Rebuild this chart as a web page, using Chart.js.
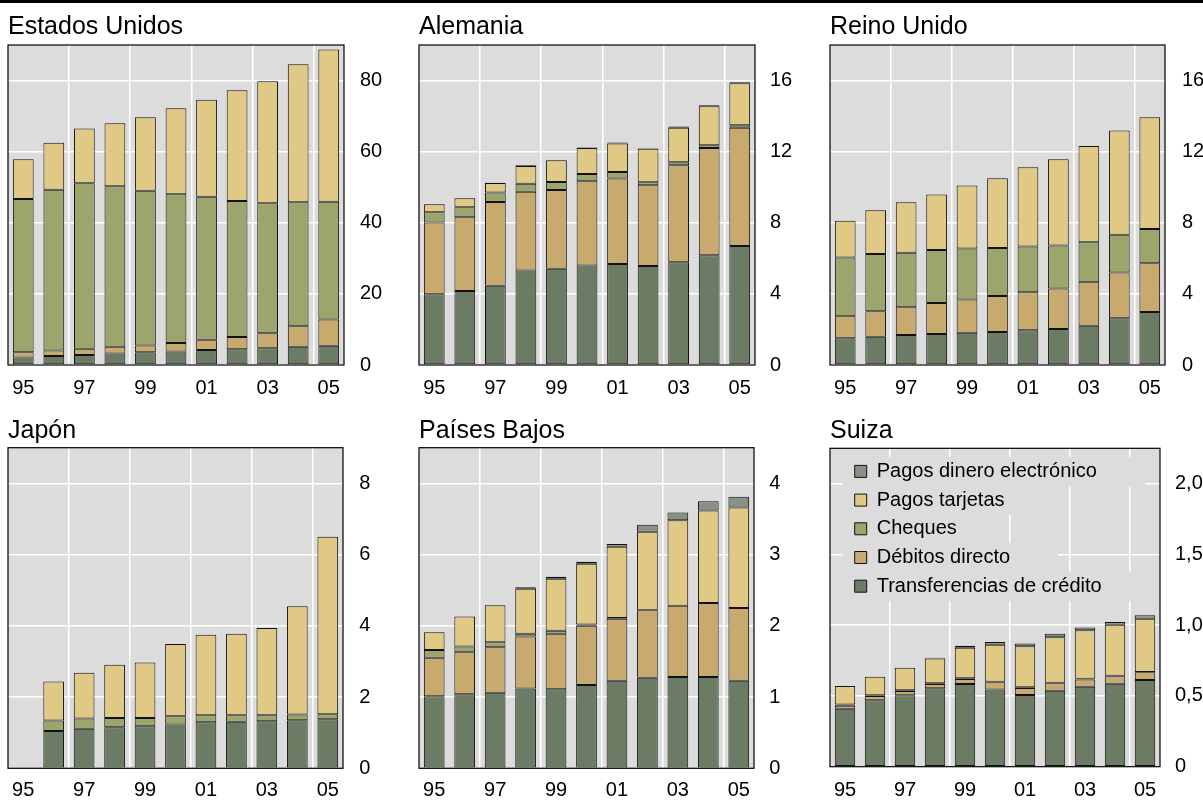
<!DOCTYPE html>
<html><head><meta charset="utf-8">
<script src="https://cdn.jsdelivr.net/npm/chart.js@4/dist/chart.umd.min.js"></script>
<style>
html,body{margin:0;padding:0;background:#fff;}
body{width:1203px;height:801px;position:relative;overflow:hidden;}
#topline{position:absolute;left:0;top:0;width:1203px;height:3px;background:#000;}
canvas{position:absolute;}
</style></head><body>
<div id="topline"></div>
<canvas id="c1" width="400" height="400" style="left:0px;top:0px"></canvas>
<canvas id="c2" width="400" height="400" style="left:400px;top:0px"></canvas>
<canvas id="c3" width="403" height="400" style="left:800px;top:0px"></canvas>
<canvas id="c4" width="400" height="401" style="left:0px;top:400px"></canvas>
<canvas id="c5" width="400" height="401" style="left:400px;top:400px"></canvas>
<canvas id="c6" width="403" height="401" style="left:800px;top:400px"></canvas>
<script>
// ---------- data ----------
const years = ['95','96','97','98','99','00','01','02','03','04','05'];
const seriesNames = ['Transferencias de crédito','Débitos directo','Cheques','Pagos tarjetas','Pagos dinero electrónico'];

const usCredit  = [2.1, 2.5, 2.8, 3.2, 3.6, 3.8, 4.2, 4.4, 4.7, 5.1, 5.4];
const usDebit   = [1.5, 1.6, 1.8, 1.9, 1.9, 2.4, 2.9, 3.5, 4.2, 5.8, 7.4];
const usCheques = [43.1, 45.2, 46.5, 45.2, 43.5, 41.8, 40.2, 38.2, 36.6, 34.9, 33.1];
const usCards   = [11.2, 13.2, 15.4, 17.7, 20.7, 24.2, 27.3, 31.2, 34.3, 38.8, 42.8];
const usEmoney  = [0, 0, 0, 0, 0, 0, 0, 0, 0, 0, 0];

const deCredit  = [3.98, 4.16, 4.46, 5.31, 5.42, 5.59, 5.68, 5.57, 5.78, 6.17, 6.70];
const deDebit   = [4.03, 4.15, 4.71, 4.43, 4.43, 4.75, 4.81, 4.54, 5.46, 6.04, 6.64];
const deCheques = [0.58, 0.56, 0.53, 0.46, 0.45, 0.41, 0.37, 0.17, 0.17, 0.15, 0.15];
const deCards   = [0.45, 0.51, 0.54, 1.00, 1.22, 1.45, 1.60, 1.88, 1.94, 2.20, 2.36];
const deEmoney  = [0.01, 0.01, 0.01, 0.04, 0.01, 0.03, 0.05, 0.03, 0.06, 0.05, 0.06];

const ukCredit  = [1.50, 1.59, 1.69, 1.74, 1.82, 1.86, 1.95, 2.03, 2.21, 2.63, 2.98];
const ukDebit   = [1.24, 1.43, 1.56, 1.75, 1.86, 2.02, 2.14, 2.28, 2.44, 2.57, 2.74];
const ukCheques = [3.30, 3.23, 3.07, 2.98, 2.87, 2.70, 2.57, 2.41, 2.25, 2.12, 1.93];
const ukCards   = [2.08, 2.45, 2.83, 3.12, 3.54, 3.92, 4.46, 4.85, 5.42, 5.87, 6.29];
const ukEmoney  = [0, 0, 0, 0, 0, 0, 0, 0, 0, 0, 0];

const jpCredit  = [null, 1.05, 1.11, 1.15, 1.18, 1.23, 1.29, 1.31, 1.32, 1.35, 1.38];
const jpDebit   = [null, null, null, null, null, null, null, null, null, null, null];
const jpCheques = [null, 0.29, 0.29, 0.26, 0.23, 0.23, 0.20, 0.18, 0.17, 0.16, 0.14];
const jpCards   = [null, 1.10, 1.28, 1.50, 1.56, 2.03, 2.26, 2.29, 2.45, 3.04, 4.98];
const jpEmoney  = [null, null, null, null, null, null, null, null, null, null, null];

const nlCredit  = [1.01, 1.04, 1.06, 1.12, 1.11, 1.17, 1.23, 1.27, 1.28, 1.28, 1.23];
const nlDebit   = [0.54, 0.59, 0.64, 0.73, 0.78, 0.83, 0.87, 0.95, 1.00, 1.04, 1.02];
const nlCheques = [0.11, 0.08, 0.07, 0.04, 0.04, 0.02, 0.01, 0, 0, 0, 0];
const nlCards   = [0.25, 0.42, 0.52, 0.63, 0.73, 0.85, 1.00, 1.10, 1.20, 1.30, 1.41];
const nlEmoney  = [0, 0, 0, 0.02, 0.03, 0.03, 0.04, 0.10, 0.11, 0.13, 0.15];

const chCredit  = [0.41, 0.47, 0.505, 0.555, 0.585, 0.546, 0.506, 0.537, 0.565, 0.586, 0.612];
const chDebit   = [0.02, 0.03, 0.03, 0.03, 0.035, 0.05, 0.05, 0.052, 0.052, 0.054, 0.055];
const chCheques = [0.01, 0.005, 0.005, 0.005, 0.005, 0.005, 0.005, 0.005, 0.004, 0.003, 0.003];
const chCards   = [0.13, 0.13, 0.16, 0.175, 0.215, 0.26, 0.29, 0.32, 0.343, 0.36, 0.375];
const chEmoney  = [0, 0, 0, 0.005, 0.015, 0.02, 0.02, 0.025, 0.02, 0.02, 0.025];

const usTicks = [0, 20, 40, 60, 80];
const deTicks = [0, 4, 8, 12, 16];
const jpTicks = [0, 2, 4, 6, 8];
const nlTicks = [0, 1, 2, 3, 4];
const chTicks = [0, 0.5, 1.0, 1.5, 2.0];

// ---------- style ----------
const FONT = '"Liberation Sans", Arial, Helvetica, sans-serif';
Chart.defaults.font.family = FONT;
Chart.defaults.color = '#000';
const seriesColors = ['#6c7c64', '#c9aa6e', '#9ca66c', '#e0c984', '#8a9086'];

const framePlugin = {
  id: 'frame',
  beforeDraw(chart) {
    const {ctx, chartArea: a} = chart;
    ctx.save();
    ctx.fillStyle = '#dcdcdc';
    ctx.fillRect(a.left, a.top, a.right - a.left, a.bottom - a.top);
    ctx.restore();
  },
  afterDraw(chart) {
    const {ctx, chartArea: a} = chart;
    ctx.save();
    ctx.strokeStyle = '#000';
    ctx.lineWidth = 1.2;
    ctx.strokeRect(a.left, a.top, a.right - a.left, a.bottom - a.top);
    ctx.restore();
  }
};

const legendTweak = {
  id: 'legendTweak',
  afterLayout(chart, args, opts) {
    const lg = chart.legend;
    if (!lg || !lg.options.display) return;
    const a = chart.chartArea;
    lg.left = a.left + opts.dx;
    lg.right = lg.left + lg.width;
    lg.top = a.top + opts.dy;
    lg.bottom = a.bottom;
    if (!lg._bgWrapped) {
      const orig = lg.draw;
      lg.draw = function () {
        const ctx = this.ctx;
        const pad = this.options.labels.padding;
        const itemH = 20;
        const rowH = itemH + pad;
        const boxLeft = this.left + pad;
        ctx.save();
        ctx.font = '20px ' + FONT;
        ctx.fillStyle = '#dcdcdc';
        let y = this.top + pad;
        for (const item of this.legendItems) {
          const tw = ctx.measureText(item.text).width;
          const cy = y + itemH / 2;
          ctx.fillRect(boxLeft - 12, cy - rowH / 2, 12 + 10 + tw + 12 + 48, rowH + 0.5);
          y += rowH;
        }
        ctx.restore();
        orig.apply(this, arguments);
      };
      lg._bgWrapped = true;
    }
  }
};

function makeChart(id, spec, title, series, yMax, tickVals, fmt, withLegend) {
  const titleSize = 25;
  const lineH = titleSize * 1.2;
  const padTop = spec.titleCy - lineH / 2;
  const padBottom = spec.top - padTop - lineH;
  const datasets = series.map((s, i) => ({
    label: seriesNames[i],
    data: s,
    backgroundColor: seriesColors[i],
    borderColor: '#111',
    borderWidth: 1,
    borderSkipped: false,
    barPercentage: 0.68,
    categoryPercentage: 1.0
  }));
  const step = tickVals[1] - tickVals[0];
  const opts = {
    responsive: false,
    animation: false,
    devicePixelRatio: 1,
    layout: {padding: {left: spec.left, top: 0, right: 0, bottom: 0}},
    plugins: {
      title: {display: true, text: title, align: 'start', color: '#000',
              font: {size: titleSize, weight: 'normal', lineHeight: 1.2},
              padding: {top: padTop, bottom: padBottom}},
      legend: withLegend ? {
        display: true, position: 'chartArea', align: 'start', reverse: true,
        labels: {boxWidth: 12, boxHeight: 12, padding: 8.7, color: '#000', font: {size: 20}}
      } : {display: false},
      tooltip: {enabled: false},
      legendTweak: withLegend ? {dx: 16, dy: 4.4} : {dx: 0, dy: 0}
    },
    scales: {
      x: {
        stacked: true, offset: true,
        border: {display: false},
        grid: {offset: true, drawTicks: false, lineWidth: 1.5,
               color: c => (c.index > 0 && c.index % 2 === 0) ? '#ffffff' : 'rgba(0,0,0,0)'},
        ticks: {autoSkip: false, maxRotation: 0, minRotation: 0, color: '#000', font: {size: 20},
                padding: spec.xlabCy - spec.bottom - 12,
                callback: (v, i) => (i % 2 === 0 ? years[i] : '')},
        afterFit: s => { s.height = spec.ch - spec.bottom; }
      },
      y: {
        stacked: true, position: 'right', min: 0, max: yMax,
        border: {display: false},
        grid: {drawTicks: false, color: '#ffffff', lineWidth: 1.5},
        ticks: {stepSize: step, includeBounds: false, color: '#000', font: {size: 20},
                padding: spec.ylabX - spec.right, callback: fmt},
        afterFit: s => { s.width = spec.cw - spec.right; }
      }
    }
  };
  return new Chart(document.getElementById(id), {
    type: 'bar',
    data: {labels: years, datasets},
    options: opts,
    plugins: withLegend ? [framePlugin, legendTweak] : [framePlugin]
  });
}

const intFmt = v => String(v);
const commaFmt = v => (v === 0 ? '0' : v.toFixed(1).replace('.', ','));

makeChart('c1', {cw: 400, ch: 400, left: 8, top: 45, right: 344, bottom: 365, titleCy: 26.8, xlabCy: 388, ylabX: 360},
  'Estados Unidos', [usCredit, usDebit, usCheques, usCards, usEmoney], 90, usTicks, intFmt, false);
makeChart('c2', {cw: 400, ch: 400, left: 19, top: 45, right: 355, bottom: 365, titleCy: 26.8, xlabCy: 388, ylabX: 370},
  'Alemania', [deCredit, deDebit, deCheques, deCards, deEmoney], 18, deTicks, intFmt, false);
makeChart('c3', {cw: 403, ch: 400, left: 30, top: 45, right: 365, bottom: 365, titleCy: 26.8, xlabCy: 388, ylabX: 382},
  'Reino Unido', [ukCredit, ukDebit, ukCheques, ukCards, ukEmoney], 18, deTicks, intFmt, false);
makeChart('c4', {cw: 400, ch: 401, left: 8, top: 47.7, right: 343, bottom: 368.3, titleCy: 31, xlabCy: 390.5, ylabX: 359.3},
  'Japón', [jpCredit, jpDebit, jpCheques, jpCards, jpEmoney], 9, jpTicks, intFmt, false);
makeChart('c5', {cw: 400, ch: 401, left: 19, top: 47.7, right: 354, bottom: 368.3, titleCy: 31, xlabCy: 390.5, ylabX: 369.3},
  'Países Bajos', [nlCredit, nlDebit, nlCheques, nlCards, nlEmoney], 4.5, nlTicks, intFmt, false);
makeChart('c6', {cw: 403, ch: 401, left: 30, top: 48.3, right: 360, bottom: 366.7, titleCy: 31, xlabCy: 390.5, ylabX: 375},
  'Suiza', [chCredit, chDebit, chCheques, chCards, chEmoney], 2.25, chTicks, commaFmt, true);
</script>
</body></html>
